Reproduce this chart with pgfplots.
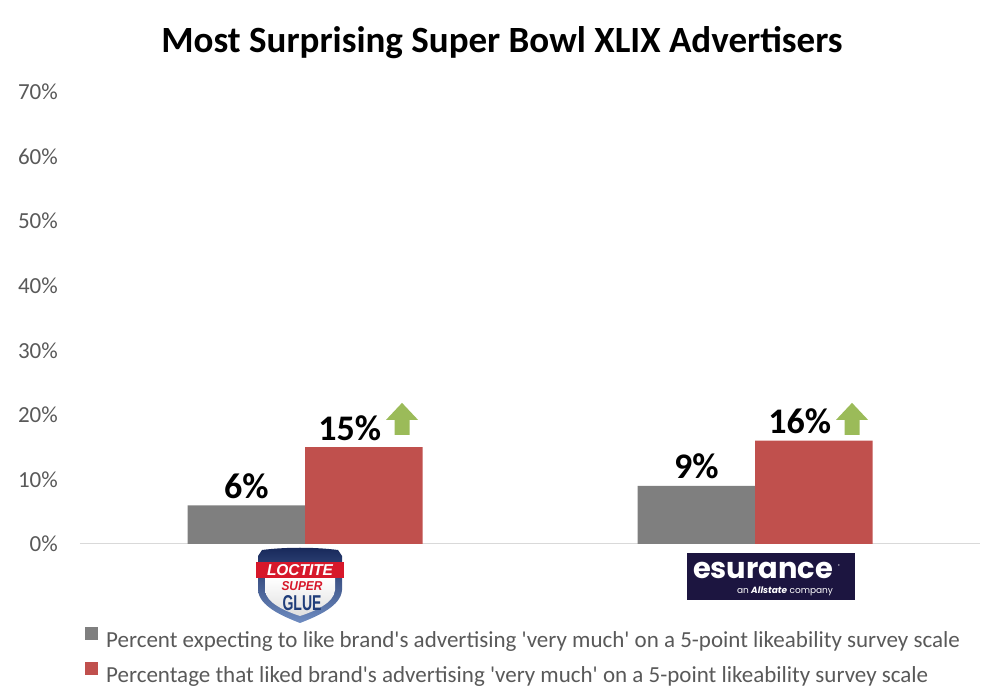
\documentclass[border=0pt]{standalone}
\usepackage{fontspec}
\setmainfont{Carlito}
\newfontfamily\poppins{Poppins}
\newfontfamily\arialf{Liberation Sans}
\usepackage{graphicx}
\usepackage{pgfplots}
\pgfplotsset{compat=1.18}
\definecolor{bargray}{HTML}{7F7F7F}
\definecolor{barred}{HTML}{C0504D}
\definecolor{arrgreen}{HTML}{9BBB59}
\definecolor{txtgray}{HTML}{595959}
\definecolor{axgray}{HTML}{D9D9D9}
\definecolor{esnavy}{HTML}{1C1540}
\definecolor{lblue}{HTML}{1F3D7A}
\definecolor{lbluedark}{HTML}{17285A}
\definecolor{lbluelight}{HTML}{6F8DC2}
\definecolor{lred}{HTML}{D7182A}
\newcommand{\uparr}[1]{%
  \fill[arrgreen] ([xshift=-7.5pt]#1) -- ([xshift=7.5pt]#1) -- ([xshift=7.5pt,yshift=15pt]#1)
    -- ([xshift=16pt,yshift=15pt]#1) -- ([yshift=32pt]#1) -- ([xshift=-16pt,yshift=15pt]#1)
    -- ([xshift=-7.5pt,yshift=15pt]#1) -- cycle;}
\begin{document}
\begin{tikzpicture}
\path[use as bounding box] (0,0) rectangle (1004pt,696pt);
\node[anchor=base, font=\fontsize{37}{42}\selectfont\bfseries] at (502pt,643pt) {Most Surprising Super Bowl XLIX Advertisers};
\begin{axis}[
  at={(80pt,152pt)}, anchor=south west,
  scale only axis, width=900pt, height=452pt,
  xmin=-0.5, xmax=1.5, ymin=0, ymax=70,
  ybar=0pt, bar width=117.5pt,
  xtick=\empty, ytick={0,10,...,70},
  yticklabel={\pgfmathprintnumber{\tick}\%},
  major tick length=0pt,
  /pgf/number format/assume math mode=true,
  yticklabel style={font=\fontsize{23}{27}\selectfont, text=txtgray, inner sep=0pt, xshift=-22pt},
  axis x line*=bottom, axis y line*=left,
  x axis line style={draw=axgray, line width=1pt, -},
  y axis line style={draw=none},
  clip=false,
  nodes near coords={\pgfmathprintnumber{\pgfplotspointmeta}\%},
  every node near coord/.append style={font=\fontsize{36}{42}\selectfont\bfseries, text=black, anchor=base, inner sep=0pt, yshift=7pt},
  legend style={at={(axis description cs:0,0)}, anchor=north west, xshift=2pt, yshift=-81pt,
    draw=none, fill=none, font=\fontsize{23}{27}\selectfont, text=txtgray,
    cells={anchor=west}, row sep=11pt, column sep=8pt,
    nodes={inner sep=0pt, text height=14pt, text depth=4pt}},
  legend image code/.code={\fill[#1] (0pt,2pt) rectangle (13pt,15pt);},
]
\addplot[fill=bargray, draw=none] coordinates {(0,6) (1,9)};
\addlegendentry{Percent expecting to like brand\textquotesingle s advertising \textquotesingle very much\textquotesingle{} on a 5-point likeability survey scale}
\addplot[fill=barred, draw=none, every node near coord/.append style={xshift=-14pt}] coordinates {(0,15) (1,16)};
\addlegendentry{Percentage that liked brand\textquotesingle s advertising \textquotesingle very much\textquotesingle{} on a 5-point likeability survey scale}
\coordinate (A1) at (axis cs:0.2156,16.9);
\coordinate (A2) at (axis cs:1.2156,16.9);
\uparr{A1}
\uparr{A2}
\end{axis}
% Loctite Super Glue logo
\begin{scope}[shift={(300pt,148pt)}]
  \shade[top color=lbluedark, bottom color=lbluelight]
    (-38pt,-2pt) .. controls (-15pt,1pt) and (15pt,1pt) .. (38pt,-2pt) -- (42pt,-8pt) -- (42pt,-42pt)
    .. controls (41pt,-58pt) and (18pt,-68pt) .. (0pt,-75pt)
    .. controls (-18pt,-68pt) and (-41pt,-58pt) .. (-42pt,-42pt) -- (-42pt,-8pt) -- cycle;
  \shade[top color=white, bottom color=gray!25]
    (-35pt,-30pt) -- (35pt,-30pt) -- (35pt,-42pt)
    .. controls (34pt,-55pt) and (15pt,-63pt) .. (0pt,-68pt)
    .. controls (-15pt,-63pt) and (-34pt,-55pt) .. (-35pt,-42pt) -- cycle;
  \fill[lred] (-44pt,-14pt) rectangle (44pt,-30pt);
  \node[text=white, inner sep=0pt] at (0pt,-22pt) {\resizebox{66pt}{11pt}{\arialf\bfseries\itshape LOCTITE}};
  \node[text=lred, inner sep=0pt] at (2pt,-38pt) {\resizebox{41pt}{9pt}{\arialf\bfseries\itshape SUPER}};
  \node[text=lblue, inner sep=0pt] at (2pt,-55pt) {\resizebox{39pt}{15pt}{\arialf\bfseries GLUE}};
\end{scope}
% esurance logo
\fill[esnavy] (687pt,96pt) rectangle (855pt,143pt);
\node[anchor=base, text=white, inner sep=0pt] at (763pt,117pt) {\resizebox{140pt}{!}{\poppins\bfseries esurance}};
\node[text=white, inner sep=0pt, font=\poppins\fontsize{4}{5}\selectfont] at (839pt,130pt) {®};
\node[anchor=base, text=white, inner sep=0pt] at (785pt,102pt) {\resizebox{96pt}{!}{\poppins an {\bfseries\itshape Allstate} company}};
\end{tikzpicture}
\end{document}
